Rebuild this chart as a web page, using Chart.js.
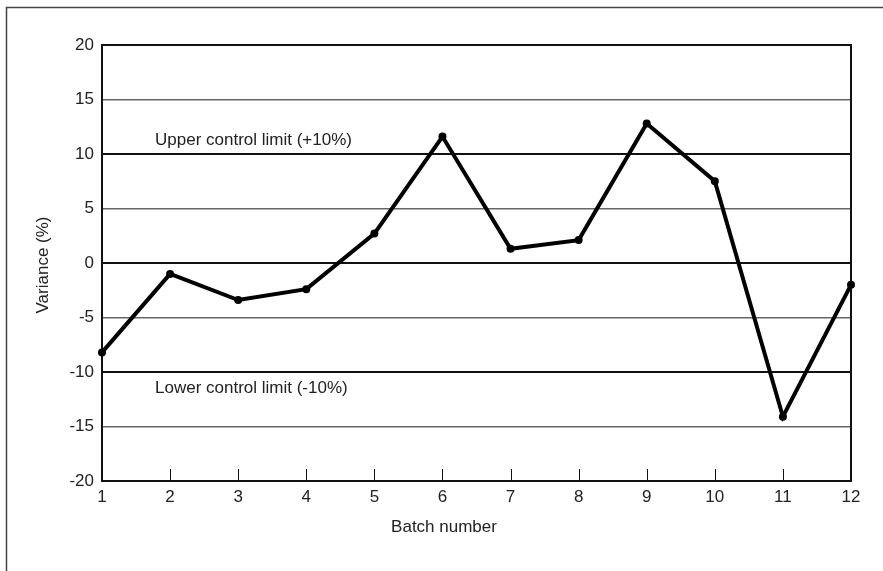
<!DOCTYPE html>
<html>
<head>
<meta charset="utf-8">
<script src="https://cdn.jsdelivr.net/npm/chart.js@4/dist/chart.umd.min.js"></script>
<style>
  html, body { margin: 0; padding: 0; background: #fff; }
  #wrap { width: 883px; height: 571px; position: relative; }
</style>
</head>
<body>
<div id="wrap"><canvas id="c" width="883" height="571"></canvas></div>
<script>
const batches = ['1','2','3','4','5','6','7','8','9','10','11','12'];
const variance = [-8.2, -1.0, -3.4, -2.4, 2.7, 11.6, 1.3, 2.1, 12.8, 7.5, -14.1, -2.0];
const yTicks = [-20, -15, -10, -5, 0, 5, 10, 15, 20];
const controlLimits = [10, -10];
const limitLabels = ['Upper control limit (+10%)', 'Lower control limit (-10%)'];
const xTitle = 'Batch number';
const yTitle = 'Variance (%)';

const FONT = '"Liberation Sans", Arial, Helvetica, sans-serif';
const FS = 17;

const decor = {
  id: 'decor',
  beforeDatasetsDraw(chart) {
    const ctx = chart.ctx, a = chart.chartArea, xs = chart.scales.x;
    ctx.save();
    ctx.strokeStyle = '#111';
    ctx.lineWidth = 2;
    ctx.strokeRect(a.left, a.top, a.right - a.left, a.bottom - a.top);
    ctx.lineWidth = 1;
    ctx.beginPath();
    for (let i = 1; i < batches.length - 1; i++) {
      const px = Math.round(xs.getPixelForValue(i)) + 0.5;
      ctx.moveTo(px, a.bottom);
      ctx.lineTo(px, a.bottom - 12);
    }
    ctx.stroke();
    ctx.strokeStyle = '#444';
    ctx.lineWidth = 1.5;
    ctx.beginPath();
    ctx.moveTo(6.5, 571);
    ctx.lineTo(6.5, 7.5);
    ctx.lineTo(883, 7.5);
    ctx.stroke();
    ctx.restore();
  },
  afterDraw(chart) {
    const ctx = chart.ctx, xs = chart.scales.x, ys = chart.scales.y;
    ctx.save();
    ctx.fillStyle = '#222';
    ctx.font = FS + 'px ' + FONT;
    ctx.textBaseline = 'middle';
    ctx.textAlign = 'left';
    const lx = xs.getPixelForValue(0) + 53;
    ctx.fillText(limitLabels[0], lx, ys.getPixelForValue(controlLimits[0]) - 14);
    ctx.fillText(limitLabels[1], lx, ys.getPixelForValue(controlLimits[1]) + 16);
    ctx.textAlign = 'center';
    ctx.fillText(xTitle, 444, 527);
    ctx.translate(43, 265);
    ctx.rotate(-Math.PI / 2);
    ctx.fillText(yTitle, 0, 0);
    ctx.restore();
  }
};

new Chart(document.getElementById('c'), {
  type: 'line',
  data: {
    labels: batches,
    datasets: [{
      data: variance,
      borderColor: '#000',
      backgroundColor: '#000',
      borderWidth: 4,
      pointRadius: 4,
      pointBorderWidth: 0,
      pointBackgroundColor: '#000',
      tension: 0,
      fill: false,
      clip: false
    }]
  },
  options: {
    responsive: false,
    animation: false,
    devicePixelRatio: 1,
    layout: { padding: { top: 45, right: 32, left: 0, bottom: 0 } },
    plugins: { legend: { display: false }, tooltip: { enabled: false } },
    scales: {
      x: {
        type: 'category',
        offset: false,
        grid: { display: false, drawTicks: false },
        border: { display: false },
        ticks: { color: '#222', font: { size: FS, family: FONT }, padding: 6, maxRotation: 0, autoSkip: false },
        afterFit(s) { s.height = 90; }
      },
      y: {
        min: yTicks[0],
        max: yTicks[yTicks.length - 1],
        afterBuildTicks(s) { s.ticks = yTicks.map(v => ({ value: v })); },
        grid: {
          drawTicks: false,
          color: c => (c.tick && c.tick.value % 10 === 0) ? '#111' : '#666',
          lineWidth: c => (c.tick && c.tick.value % 10 === 0) ? 2 : 1.5
        },
        border: { display: false },
        ticks: { color: '#222', font: { size: FS, family: FONT }, padding: 8 },
        afterFit(s) { s.width = 102; }
      }
    }
  },
  plugins: [decor]
});
</script>
</body>
</html>
